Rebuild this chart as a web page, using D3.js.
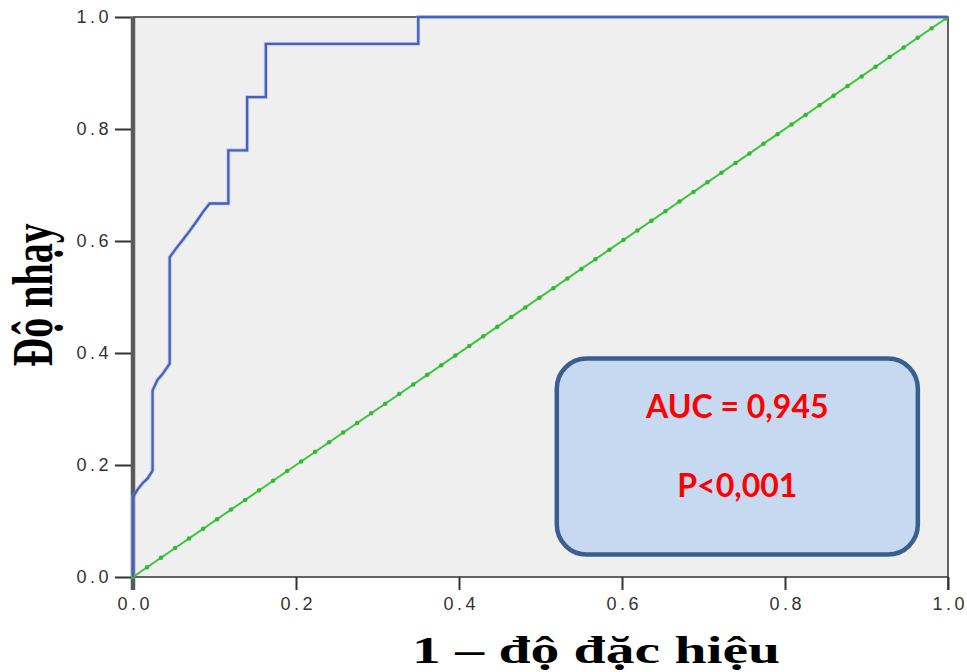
<!DOCTYPE html>
<html>
<head>
<meta charset="utf-8">
<script src="https://cdn.jsdelivr.net/npm/d3@7"></script>
<style>
  body { margin: 0; background: #fff; }
  svg { display: block; }
</style>
</head>
<body>
<div id="chart"></div>
<script>
// --------------------------------------------------------
// DATA
// --------------------------------------------------------
const fpr = [0, 0, 0.006, 0.012, 0.018, 0.024, 0.024, 0.03, 0.036, 0.045, 0.045, 0.052,
  0.06, 0.068, 0.077, 0.086, 0.094, 0.117, 0.117, 0.14, 0.14, 0.163, 0.163, 0.35, 0.35, 1.0];
const tpr = [0, 0.143, 0.157, 0.168, 0.176, 0.19, 0.333, 0.352, 0.362, 0.381, 0.571, 0.585,
  0.6, 0.615, 0.633, 0.652, 0.667, 0.667, 0.762, 0.762, 0.857, 0.857, 0.952, 0.952, 1, 1];
const refLine = [0, 1];
const ticks = [0, 0.2, 0.4, 0.6, 0.8, 1.0];
const annotation = ["AUC = 0,945", "P<0,001"];
const xTitle = "1 – độ đặc hiệu";
const yTitle = "Độ nhạy";

// --------------------------------------------------------
// VARIABLES
// --------------------------------------------------------
const width = 967;
const height = 672;
const plotLeft = 133, plotRight = 948, plotTop = 17, plotBottom = 577;

const x = d3.scaleLinear().domain([0, 1]).range([plotLeft, plotRight]);
const y = d3.scaleLinear().domain([0, 1]).range([plotBottom, plotTop]);

const svg = d3.select("#chart").append("svg")
  .attr("width", width)
  .attr("height", height);

// plot background
svg.append("rect")
  .attr("x", x(0)).attr("y", y(1))
  .attr("width", x(1) - x(0)).attr("height", y(0) - y(1))
  .attr("fill", "#efefef");

// axes
const tickFont = g => g.selectAll("text")
  .attr("fill", "#333")
  .style("font-family", "'Liberation Sans', Arial, sans-serif")
  .style("font-size", "18px")
  .style("letter-spacing", "3.5px");

svg.append("g")
  .attr("transform", `translate(${plotLeft},0)`)
  .call(d3.axisLeft(y).tickValues(ticks).tickFormat(d3.format(".1f")).tickSize(18).tickPadding(3))
  .call(g => g.select(".domain").remove())
  .call(g => g.selectAll("line").attr("stroke", "#333").attr("stroke-width", 2))
  .call(tickFont);

svg.append("g")
  .attr("transform", `translate(0,${plotBottom})`)
  .call(d3.axisBottom(x).tickValues(ticks).tickFormat(d3.format(".1f")).tickSize(13).tickPadding(7))
  .call(g => g.select(".domain").remove())
  .call(g => g.selectAll("line").attr("stroke", "#333").attr("stroke-width", 2))
  .call(tickFont)
  .call(g => g.selectAll("text").attr("dx", "1.75px"));

// frame: top, right and bottom thin lines
svg.append("path")
  .attr("fill", "none")
  .attr("stroke", "#333")
  .attr("stroke-width", 1.5)
  .attr("d", `M${x(0)},${y(1)}H${x(1)}V${plotBottom + 13}M${x(0)},${y(0)}H${x(1)}`);

// thick left bar
svg.append("line")
  .attr("x1", x(0)).attr("x2", x(0))
  .attr("y1", y(1)).attr("y2", plotBottom + 13)
  .attr("stroke", "#5a5a5a")
  .attr("stroke-width", 4.5);

// reference diagonal
const diag = d3.line().x(d => x(d)).y(d => y(d));
svg.append("path")
  .attr("fill", "none")
  .attr("stroke", "#3cc43c")
  .attr("stroke-width", 2)
  .attr("d", diag(refLine));
svg.append("path")
  .attr("fill", "none")
  .attr("stroke", "#34b834")
  .attr("stroke-width", 4.5)
  .attr("stroke-linecap", "round")
  .attr("stroke-dasharray", "0 17")
  .attr("d", diag(refLine));

// ROC curve
const roc = d3.line().x((d, i) => x(fpr[i])).y(d => y(d));
svg.append("path")
  .attr("fill", "none")
  .attr("stroke", "#9fb0e0")
  .attr("stroke-width", 4)
  .attr("opacity", 0.5)
  .attr("d", roc(tpr));
svg.append("path")
  .attr("fill", "none")
  .attr("stroke", "#4262bd")
  .attr("stroke-width", 2.3)
  .attr("d", roc(tpr));

// annotation box (placed in data units)
const bx0 = 0.52, bx1 = 0.963, by0 = 0.04, by1 = 0.39;
svg.append("rect")
  .attr("x", x(bx0)).attr("y", y(by1))
  .attr("width", x(bx1) - x(bx0)).attr("height", y(by0) - y(by1))
  .attr("rx", 30).attr("ry", 30)
  .attr("fill", "#c6d9f0")
  .attr("stroke", "#3a5f8c")
  .attr("stroke-width", 4.5);

svg.selectAll(".note")
  .data(annotation)
  .join("text")
  .attr("class", "note")
  .attr("x", (x(bx0) + x(bx1)) / 2)
  .attr("y", (d, i) => 418 + i * 79)
  .attr("text-anchor", "middle")
  .attr("fill", "#ff0000")
  .style("font-family", "Lato, 'Open Sans', sans-serif")
  .style("font-weight", "bold")
  .style("font-size", "32px")
  .text(d => d);

// axis titles (bold serif, horizontally stretched like the source image)
svg.append("text")
  .attr("x", 596)
  .attr("y", 663)
  .attr("text-anchor", "middle")
  .attr("textLength", 368)
  .attr("lengthAdjust", "spacingAndGlyphs")
  .style("font-family", "'Liberation Serif', 'Times New Roman', serif")
  .style("font-weight", "bold")
  .style("font-size", "37px")
  .attr("fill", "#000")
  .text(xTitle);

svg.append("text")
  .attr("transform", "translate(52,295) scale(1.4,1) rotate(-90)")
  .attr("text-anchor", "middle")
  .style("font-family", "'Liberation Serif', 'Times New Roman', serif")
  .style("font-weight", "bold")
  .style("font-size", "40px")
  .attr("fill", "#000")
  .text(yTitle);
</script>
</body>
</html>
